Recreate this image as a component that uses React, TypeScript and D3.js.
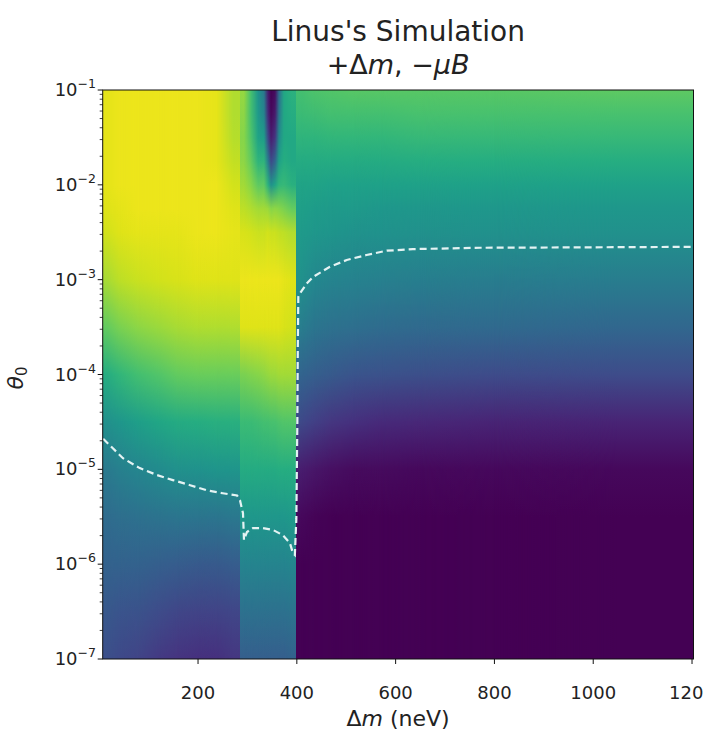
import React from 'react';
import * as d3 from 'd3';

// Δm bin edges (neV) of the simulated field columns
const dmEdges = [7, 25, 60, 100, 140, 180, 220, 255, 285, 300, 315, 328, 338, 345, 352, 359, 368, 382, 398, 420, 450, 490, 540, 600, 700, 900, 1203];
// edges where the field jumps (no smooth blending across them)
const dmBreaks = [285, 398];
// log10(θ0) nodes at which each column is sampled
const logThetaRows = [-1, -1.25, -1.5, -1.75, -2, -2.25, -2.5, -3, -3.5, -4, -4.5, -5, -5.5, -6, -6.5, -7];
// normalised colour value (0..1, viridis) of each column at each node
const fieldColumns = [
  [0.96, 0.96, 0.96, 0.96, 0.96, 0.95, 0.93, 0.87, 0.76, 0.62, 0.50, 0.41, 0.35, 0.31, 0.27, 0.24],
  [0.97, 0.97, 0.97, 0.97, 0.97, 0.96, 0.95, 0.90, 0.80, 0.66, 0.53, 0.43, 0.36, 0.31, 0.26, 0.22],
  [0.97, 0.97, 0.97, 0.97, 0.97, 0.97, 0.96, 0.92, 0.83, 0.70, 0.56, 0.46, 0.37, 0.31, 0.25, 0.20],
  [0.97, 0.97, 0.97, 0.97, 0.97, 0.97, 0.96, 0.93, 0.85, 0.73, 0.59, 0.48, 0.38, 0.30, 0.23, 0.17],
  [0.97, 0.97, 0.97, 0.97, 0.97, 0.97, 0.96, 0.94, 0.87, 0.76, 0.61, 0.50, 0.39, 0.29, 0.21, 0.15],
  [0.97, 0.97, 0.97, 0.97, 0.97, 0.97, 0.97, 0.95, 0.88, 0.77, 0.62, 0.51, 0.39, 0.28, 0.20, 0.14],
  [0.96, 0.96, 0.96, 0.96, 0.97, 0.97, 0.97, 0.95, 0.88, 0.77, 0.63, 0.52, 0.39, 0.28, 0.20, 0.14],
  [0.88, 0.88, 0.89, 0.91, 0.93, 0.95, 0.96, 0.95, 0.88, 0.77, 0.63, 0.52, 0.40, 0.29, 0.21, 0.16],
  [0.84, 0.83, 0.82, 0.83, 0.86, 0.90, 0.94, 0.97, 0.95, 0.80, 0.68, 0.61, 0.53, 0.45, 0.37, 0.30],
  [0.70, 0.70, 0.72, 0.76, 0.82, 0.88, 0.93, 0.97, 0.95, 0.81, 0.68, 0.61, 0.53, 0.45, 0.37, 0.30],
  [0.52, 0.54, 0.58, 0.65, 0.75, 0.86, 0.92, 0.97, 0.95, 0.82, 0.69, 0.61, 0.53, 0.45, 0.37, 0.30],
  [0.40, 0.45, 0.55, 0.65, 0.75, 0.86, 0.92, 0.97, 0.95, 0.83, 0.70, 0.61, 0.53, 0.45, 0.37, 0.30],
  [0.08, 0.12, 0.22, 0.42, 0.64, 0.85, 0.93, 0.97, 0.95, 0.84, 0.70, 0.61, 0.53, 0.45, 0.37, 0.30],
  [0.00, 0.02, 0.08, 0.22, 0.50, 0.82, 0.92, 0.97, 0.95, 0.85, 0.71, 0.61, 0.53, 0.45, 0.37, 0.30],
  [0.03, 0.07, 0.15, 0.32, 0.58, 0.83, 0.92, 0.97, 0.95, 0.85, 0.71, 0.61, 0.53, 0.45, 0.37, 0.30],
  [0.35, 0.40, 0.48, 0.57, 0.66, 0.82, 0.91, 0.97, 0.95, 0.86, 0.72, 0.62, 0.53, 0.45, 0.37, 0.30],
  [0.60, 0.60, 0.60, 0.62, 0.67, 0.80, 0.90, 0.96, 0.94, 0.86, 0.73, 0.62, 0.53, 0.45, 0.37, 0.30],
  [0.64, 0.62, 0.60, 0.60, 0.63, 0.76, 0.88, 0.95, 0.93, 0.86, 0.73, 0.62, 0.54, 0.46, 0.38, 0.31],
  [0.70, 0.68, 0.65, 0.61, 0.58, 0.56, 0.54, 0.50, 0.42, 0.32, 0.22, 0.08, 0.02, 0.00, 0.00, 0.00],
  [0.72, 0.69, 0.65, 0.61, 0.58, 0.55, 0.53, 0.465, 0.39, 0.30, 0.19, 0.06, 0.01, 0.00, 0.00, 0.00],
  [0.73, 0.70, 0.66, 0.61, 0.57, 0.54, 0.52, 0.45, 0.37, 0.28, 0.16, 0.04, 0.00, 0.00, 0.00, 0.00],
  [0.74, 0.70, 0.66, 0.61, 0.57, 0.54, 0.51, 0.44, 0.36, 0.26, 0.14, 0.03, 0.00, 0.00, 0.00, 0.00],
  [0.74, 0.70, 0.66, 0.61, 0.57, 0.53, 0.505, 0.43, 0.35, 0.25, 0.12, 0.03, 0.00, 0.00, 0.00, 0.00],
  [0.74, 0.71, 0.67, 0.62, 0.57, 0.53, 0.50, 0.425, 0.34, 0.24, 0.11, 0.02, 0.00, 0.00, 0.00, 0.00],
  [0.74, 0.71, 0.67, 0.62, 0.57, 0.53, 0.50, 0.42, 0.34, 0.23, 0.10, 0.02, 0.00, 0.00, 0.00, 0.00],
  [0.75, 0.71, 0.67, 0.62, 0.57, 0.53, 0.50, 0.42, 0.33, 0.23, 0.10, 0.02, 0.00, 0.00, 0.00, 0.00],
];

// dashed contour
const contourDm = [8, 48, 82, 117, 149, 184, 218, 250, 279, 285, 291, 293, 299, 311, 331, 352, 372, 386, 392, 396, 399, 401, 402, 403, 406.5, 420, 433, 467, 501, 541, 582, 635, 771, 973, 1203];
const contourTheta = [2.1e-5, 1.31e-5, 1.03e-5, 8.7e-6, 7.7e-6, 6.8e-6, 6.0e-6, 5.6e-6, 5.3e-6, 4.7e-6, 3.45e-6, 1.8e-6, 2.18e-6, 2.4e-6, 2.4e-6, 2.29e-6, 2.02e-6, 1.67e-6, 1.31e-6, 1.25e-6, 3e-6, 3e-5, 2e-4, 6.6e-4, 7.2e-4, 9.1e-4, 1.07e-3, 1.37e-3, 1.61e-3, 1.82e-3, 2.02e-3, 2.1e-3, 2.17e-3, 2.19e-3, 2.22e-3];

const xTicks = [200, 400, 600, 800, 1000, 1200];
const yTickExponents = [-1, -2, -3, -4, -5, -6, -7];

const FONT = "'DejaVu Sans', 'Liberation Sans', sans-serif";

export default function App() {
  const M = { left: 102.7, right: 693.5, top: 90, bottom: 659 };
  const x = d3.scaleLinear().domain([dmEdges[0], dmEdges[dmEdges.length - 1]]).range([M.left, M.right]);
  const y = d3.scaleLog().domain([1e-7, 1e-1]).range([M.bottom, M.top]);
  const color = d3.interpolateViridis;
  const H = M.bottom - M.top;

  const minorTicks: number[] = [];
  for (let e = -7; e < -1; e++) for (let k = 2; k <= 9; k++) minorTicks.push(k * Math.pow(10, e));

  const pts: [number, number][] = contourDm.map((d, i) => [d, contourTheta[i]]);
  const line = d3.line<[number, number]>().x(d => x(d[0])).y(d => y(d[1]));

  const n = fieldColumns.length;
  const px = (v: number) => Math.round(x(v));
  const centers = fieldColumns.map((_, i) => Math.round((x(dmEdges[i]) + x(dmEdges[i + 1])) / 2));
  const isBreak = (i: number) => dmBreaks.includes(dmEdges[i + 1]);

  const solids: { x0: number; x1: number; col: number }[] = [];
  const blends: { x0: number; x1: number; a: number; b: number; k: number }[] = [];
  solids.push({ x0: Math.floor(M.left), x1: centers[0], col: 0 });
  for (let i = 0; i < n - 1; i++) {
    if (isBreak(i)) {
      const e = px(dmEdges[i + 1]);
      solids.push({ x0: centers[i], x1: e, col: i });
      solids.push({ x0: e, x1: centers[i + 1], col: i + 1 });
    } else if (centers[i + 1] > centers[i]) {
      blends.push({ x0: centers[i], x1: centers[i + 1], a: i, b: i + 1, k: blends.length });
    }
  }
  solids.push({ x0: centers[n - 1], x1: Math.ceil(M.right), col: n - 1 });

  const top = Math.floor(M.top);
  const hh = Math.ceil(M.bottom) - top;

  return (
    <svg width={704} height={736} style={{ position: 'absolute', left: 0, top: 0, background: '#fff' }} fontFamily={FONT}>
      <defs>
        {fieldColumns.map((col, i) => (
          <linearGradient key={i} id={`col${i}`} gradientUnits="userSpaceOnUse" x1={0} x2={0} y1={M.top} y2={M.bottom}>
            {col.map((v, j) => (
              <stop key={j} offset={(y(Math.pow(10, logThetaRows[j])) - M.top) / H} stopColor={color(v)} />
            ))}
          </linearGradient>
        ))}
        {blends.map(b => (
          <linearGradient key={`r${b.k}`} id={`ramp${b.k}`} gradientUnits="userSpaceOnUse" x1={b.x0} x2={b.x1} y1={0} y2={0}>
            <stop offset={0} stopColor="#fff" stopOpacity={0} />
            <stop offset={1} stopColor="#fff" stopOpacity={1} />
          </linearGradient>
        ))}
        {blends.map(b => (
          <mask key={`m${b.k}`} id={`mask${b.k}`} maskUnits="userSpaceOnUse" x={b.x0 - 2} y={top - 2} width={b.x1 - b.x0 + 6} height={hh + 4}>
            <rect x={b.x0} y={top} width={b.x1 - b.x0 + 3} height={hh} fill={`url(#ramp${b.k})`} />
          </mask>
        ))}
        <clipPath id="plotClip">
          <rect x={M.left} y={M.top} width={M.right - M.left} height={H} />
        </clipPath>
      </defs>

      <g clipPath="url(#plotClip)">
        {blends.map(b => (
          <g key={`b${b.k}`}>
            <rect x={b.x0} y={top} width={b.x1 - b.x0 + 1} height={hh} fill={`url(#col${b.a})`} />
            <rect x={b.x0} y={top} width={b.x1 - b.x0 + 1} height={hh} fill={`url(#col${b.b})`} mask={`url(#mask${b.k})`} />
          </g>
        ))}
        {solids.map((s, i) => (
          <rect key={`s${i}`} x={s.x0} y={top} width={s.x1 - s.x0} height={hh} fill={`url(#col${s.col})`} />
        ))}
        <path d={line(pts) || ''} fill="none" stroke="#e4f3f3" strokeWidth={2.2} strokeDasharray="7,4" />
      </g>

      <rect x={M.left} y={M.top} width={M.right - M.left} height={H} fill="none" stroke="#111" strokeWidth={1} />

      {/* x ticks */}
      {xTicks.map(t => (
        <g key={t}>
          <line x1={x(t)} x2={x(t)} y1={M.bottom} y2={M.bottom + 5} stroke="#111" strokeWidth={1} />
          <text x={x(t)} y={699} textAnchor="middle" fontSize={18} fill="#222">{t}</text>
        </g>
      ))}

      {/* y ticks */}
      {minorTicks.map((t, i) => (
        <line key={i} x1={M.left - 3} x2={M.left} y1={y(t)} y2={y(t)} stroke="#111" strokeWidth={0.8} />
      ))}
      {yTickExponents.map(e => {
        const yy = y(Math.pow(10, e));
        return (
          <g key={e}>
            <line x1={M.left - 5} x2={M.left} y1={yy} y2={yy} stroke="#111" strokeWidth={1} />
            <text x={96} y={yy + 6} textAnchor="end" fontSize={18} fill="#222">
              10<tspan fontSize={12.5} dy={-8}>{`\u2212${-e}`}</tspan>
            </text>
          </g>
        );
      })}

      {/* axis labels */}
      <text x={(M.left + M.right) / 2} y={726} textAnchor="middle" fontSize={22} fill="#222">
        Δ<tspan fontStyle="italic">m</tspan> (neV)
      </text>
      <text transform={`translate(23,378) rotate(-90)`} textAnchor="middle" fontSize={22} fill="#222">
        <tspan fontStyle="italic">θ</tspan><tspan fontSize={15} dy={4}>0</tspan>
      </text>

      {/* title */}
      <text x={(M.left + M.right) / 2} y={41} textAnchor="middle" fontSize={28} fill="#222">Linus's Simulation</text>
      <text x={(M.left + M.right) / 2} y={74} textAnchor="middle" fontSize={27} fill="#222">
        +Δ<tspan fontStyle="italic">m</tspan>, −<tspan fontStyle="italic">μB</tspan>
      </text>
    </svg>
  );
}
